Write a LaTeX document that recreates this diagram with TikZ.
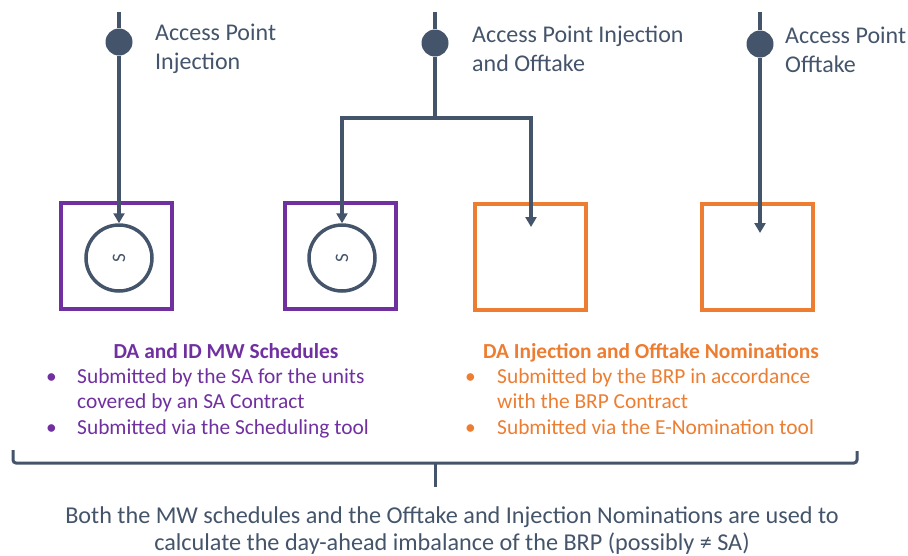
\documentclass[tikz,border=0pt]{standalone}
\usepackage{fontspec}
\setmainfont{Carlito}
\usetikzlibrary{arrows.meta}
\definecolor{slate}{HTML}{44546A}
\definecolor{vio}{HTML}{7030A0}
\definecolor{org}{HTML}{ED7D31}
\begin{document}
\begin{tikzpicture}[x=1pt,y=-1pt,
  wire/.style={draw=slate, line width=4pt},
  arr/.style={wire, -{Triangle[width=11pt,length=10pt]}},
  apdot/.style={circle, fill=slate, minimum size=27pt, inner sep=0pt},
  pbox/.style={draw=vio, line width=4pt, minimum width=111pt, minimum height=106pt, inner sep=0pt},
  obox/.style={draw=org, line width=4pt, minimum width=111pt, minimum height=106pt, inner sep=0pt},
  scirc/.style={circle, draw=slate, line width=3.5pt, minimum size=66pt, inner sep=0pt, text=slate, font=\fontsize{19}{20}\selectfont},
  lbl/.style={text=slate, align=left, inner sep=0pt, font=\fontsize{24}{29}\selectfont},
  ptxt/.style={text=vio, align=left, inner sep=0pt, font=\fontsize{21.4}{25.5}\selectfont},
  otxt/.style={text=org, align=left, inner sep=0pt, font=\fontsize{21.4}{25.5}\selectfont},
  btxt/.style={text=slate, align=center, inner sep=0pt, font=\fontsize{24.2}{27}\selectfont},
  brace/.style={draw=slate, line width=3pt, rounded corners=3pt}
]
\useasboundingbox (0,0) rectangle (908,555);

% boxes
\node[pbox] (b1) at (116,256) {};
\node[pbox] (b2) at (340.5,256) {};
\node[obox] (b3) at (530,256.5) {};
\node[obox] (b4) at (757,256.5) {};
\node[scirc] (c1) at (119,258) {\rotatebox{90}{S}};
\node[scirc] (c2) at (342,258) {\rotatebox{90}{S}};

% access points
\coordinate (t1) at (119,12);
\coordinate (t2) at (435,12);
\coordinate (t3) at (760,12);
\node[apdot] (d1) at (119,42) {};
\node[apdot] (d2) at (435,43) {};
\node[apdot] (d3) at (760,44) {};
\coordinate (j) at (435,118);
\coordinate (jl) at (342,118);
\coordinate (jr) at (531,118);
\coordinate (e3) at (531,227);
\coordinate (e4) at (760,233);

\draw[wire] (t1) -- (d1);
\draw[wire] (t2) -- (d2);
\draw[wire] (t3) -- (d3);
\draw[arr] (d1) -- (c1);
\draw[wire] (d2) -- (j);
\draw[arr] (jl) -- (c2);
\draw[arr] (jr) -- (e3);
\draw[wire, line cap=rect] (jl) -- (jr);
\draw[arr] (d3) -- (e4);

% labels (base anchor = baseline of last line)
\node[lbl, anchor=base west] (l1) at (155,69) {Access Point\\Injection};
\node[lbl, anchor=base west] (l2) at (472,71) {Access Point Injection\\and Offtake};
\node[lbl, anchor=base west] (l3) at (785,72) {Access Point\\Offtake};

% text blocks
\node[ptxt, anchor=base, font=\bfseries\fontsize{21.4}{25.5}\selectfont] (ph) at (226,358) {DA and ID MW Schedules};
\node[ptxt, anchor=base west] (p1) at (77,434) {Submitted by the SA for the units\\covered by an SA Contract\\Submitted via the Scheduling tool};
\node[ptxt, anchor=base west] (pb1) at (46,383) {•};
\node[ptxt, anchor=base west] (pb2) at (46,434) {•};

\node[otxt, anchor=base, font=\bfseries\fontsize{21.4}{25.5}\selectfont] (oh) at (651,358) {DA Injection and Offtake Nominations};
\node[otxt, anchor=base west] (o1) at (497,434) {Submitted by the BRP in accordance\\with the BRP Contract\\Submitted via the E-Nomination tool};
\node[otxt, anchor=base west] (ob1) at (465,383) {•};
\node[otxt, anchor=base west] (ob2) at (465,434) {•};

% brace
\coordinate (bl) at (13,450);
\coordinate (br) at (857,451);
\coordinate (bm) at (435,463);
\coordinate (bt) at (435,487);
\draw[brace] (bl) -- (13,463) -- (br |- bm) -- (br);
\draw[draw=slate, line width=3pt] (bm) -- (bt);

% bottom text
\node[btxt, anchor=base] (bot) at (452,550) {Both the MW schedules and the Offtake and Injection Nominations are used to\\calculate the day-ahead imbalance of the BRP (possibly ≠ SA)};
\end{tikzpicture}
\end{document}
